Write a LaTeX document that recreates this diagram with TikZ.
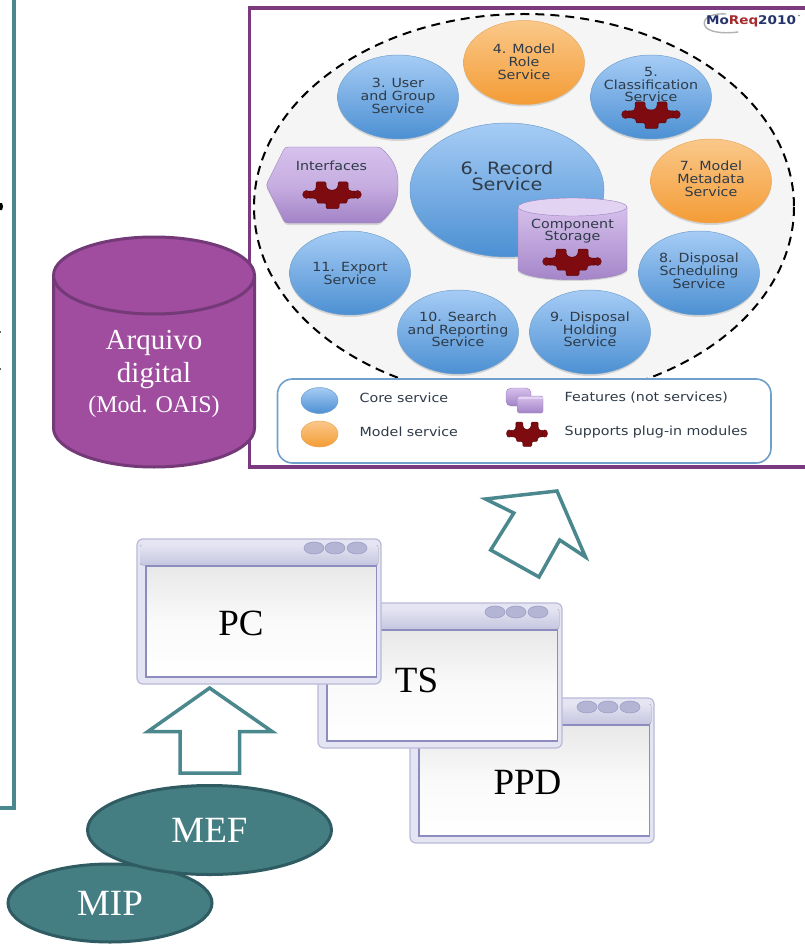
\documentclass[tikz,border=0pt]{standalone}
\usepackage{fontspec}
\setmainfont{Liberation Serif}
\newfontfamily\svfont[FakeStretch=1.13]{DejaVu Sans}
\usetikzlibrary{shapes.geometric}
\definecolor{tealline}{HTML}{4A888E}
\definecolor{tealfill}{HTML}{457E82}
\definecolor{tealdark}{HTML}{2F5C62}
\definecolor{framepurple}{HTML}{7B3A7F}
\definecolor{cylfill}{HTML}{A04C9F}
\definecolor{cyledge}{HTML}{743A78}
\definecolor{svctext}{HTML}{2F3B48}
\definecolor{winedge}{HTML}{B9B9D9}
\definecolor{winbar}{HTML}{E4E4F2}
\definecolor{winbardark}{HTML}{C6C6E0}
\definecolor{wininner}{HTML}{8C8CBE}
\definecolor{BlueEdge}{HTML}{6F9FCB}
\definecolor{BlueTop}{HTML}{A6CCF5}
\definecolor{BlueBot}{HTML}{4C90D3}
\definecolor{OrangeEdge}{HTML}{E9A75C}
\definecolor{OrangeTop}{HTML}{FAC88A}
\definecolor{OrangeBot}{HTML}{F49C36}
\definecolor{FeatTop}{HTML}{D6C0EC}
\definecolor{FeatBot}{HTML}{A283C7}
\definecolor{FeatEdge}{HTML}{9A80BC}
\definecolor{WinBtn}{HTML}{B4B4D4}
\definecolor{WinBtnEdge}{HTML}{9C9CC4}
\definecolor{PuzzleFill}{HTML}{7D0B10}
\definecolor{PuzzleEdge}{HTML}{5A0A0E}
\tikzset{
  svcbase/.style={shape=ellipse,inner sep=0pt,minimum width=121pt,minimum height=84pt,line width=.5pt},
  core/.style={svcbase,draw=BlueEdge,top color=BlueTop,bottom color=BlueBot},
  model/.style={svcbase,draw=OrangeEdge,top color=OrangeTop,bottom color=OrangeBot},
  svctxt/.style={text=svctext,align=center,inner sep=0pt,font=\svfont\fontsize{12.6}{12.7}\selectfont},
  legtxt/.style={text=svctext,anchor=west,inner sep=0pt,font=\svfont\fontsize{12.6}{13}\selectfont},
  hollow/.style={draw=tealline,line width=3.5pt,fill=white,miter limit=10},
  tealell/.style={shape=ellipse,draw=tealdark,fill=tealfill,line width=3pt,inner sep=0pt,text=white,font=\fontsize{37}{38}\selectfont},
  wintxt/.style={text=black,inner sep=0pt,font=\fontsize{37}{38}\selectfont},
  arqtxt/.style={text=white,align=center,inner sep=0pt},
  featfill/.style={top color=FeatTop,bottom color=FeatBot,draw=FeatEdge,line width=.4pt},
  winbtn/.style={fill=WinBtn,draw=WinBtnEdge,line width=.6pt},
  puzzle/.pic={
    \path[fill=PuzzleFill,draw=PuzzleEdge,line width=.5pt,rounded corners=1.2pt,line join=round]
      (-24,-4)--(-18,-4)--(-16,-6)--(-16,-13)--(-6,-13)--(-6,-8)--(-3,-5)--(3,-5)--(6,-8)--(6,-13)--(16,-13)--(16,-6)--(18,-4)--(24,-4)--(24,3)--(18,3)--(15,4.5)--(15,8)--(7,8)--(7,13.5)--(-6,13.5)--(-6,8)--(-15,8)--(-15,4.5)--(-18,3)--(-24,3)--cycle;
    \path[fill=PuzzleFill,draw=PuzzleEdge,line width=.4pt] (-25.5,-.5) ellipse [x radius=3.8,y radius=4];
    \path[fill=PuzzleFill,draw=PuzzleEdge,line width=.4pt] (25.5,-.5) ellipse [x radius=3.8,y radius=4];
  }
}
% name, x, y, class, text y, text
\newcommand\svcnode[6]{%
  \fill[black,opacity=.13] (#2,#3+2) ellipse [x radius=60.5,y radius=42];
  \node[#4] (#1) at (#2,#3) {};
  \node[svctxt] (#1t) at (#2,#5) {#6};
}
% name, x, y, text x, text y, text
\newcommand\winnode[6]{%
  \begin{scope}[shift={(#2,#3)}]
    \draw[winedge,line width=1.2pt,fill=winbar,rounded corners=6pt] (0,0) rectangle (244,145);
    \fill[top color=winbar,bottom color=winbardark,rounded corners=2pt] (3,6) rectangle (241,26);
    \draw[wininner,line width=1.2pt,top color=black!9,bottom color=white,middle color=black!2] (9,27) rectangle (239.5,138);
    \draw[winbtn] (177,9) ellipse [x radius=10,y radius=6];
    \draw[winbtn] (198,9) ellipse [x radius=10,y radius=6];
    \draw[winbtn] (220,9) ellipse [x radius=10,y radius=6];
    \node[wintxt] (#1) at (#4,#5) {#6};
  \end{scope}
}
\begin{document}
\begin{tikzpicture}[x=1pt,y=-1pt]
\useasboundingbox (0,0) rectangle (804,944);
\fill[white] (0,0) rectangle (804,944);
% left bracket and cut-off text specks
\draw[tealline,line width=4pt] (13.5,-5) -- (13.5,808) -- (-5,808);
\fill[black] (0,203) -- (2,203) .. controls (3.5,205) and (3.5,208) .. (2,210) -- (0,210) -- cycle;
\fill[black!60] (0,331) rectangle (1.3,333);
\fill[black!60] (0,368) rectangle (1.3,370);
% frame
\draw[framepurple,line width=3.5pt,fill=white] (249.5,8) rectangle (815,467);
% dashed ellipse
\fill[black!4] (524,207) ellipse [x radius=270,y radius=193];
\draw[black,line width=2pt,dash pattern=on 9pt off 6pt] (524,207) ellipse [x radius=270,y radius=193];
% services
\svcnode{s4}{524}{62.5}{model}{62}{4. Model\\Role\\Service}
\svcnode{s3}{398}{97}{core}{96}{3. User\\and Group\\Service}
\svcnode{s5}{651}{97}{core}{84.5}{5.\\Classification\\Service}
\svcnode{s7}{711}{181}{model}{179}{7. Model\\Metadata\\Service}
\svcnode{s8}{699}{273}{core}{271}{8. Disposal\\Scheduling\\Service}
\svcnode{s11}{350}{273}{core}{273.5}{11. Export\\Service}
\svcnode{s10}{458}{332}{core}{329.5}{10. Search\\and Reporting\\Service}
\svcnode{s9}{590}{332}{core}{329.5}{9. Disposal\\Holding\\Service}
\pic at (651,115) {puzzle};
% record service
\fill[black,opacity=.13] (507,192) ellipse [x radius=97,y radius=67];
\node[core,minimum width=194pt,minimum height=134pt] (s6) at (507,190) {};
\node[svctxt,font=\svfont\fontsize{17}{16.3}\selectfont] (s6t) at (507,176) {6. Record\\Service};
% interfaces
\fill[black,opacity=.13,rounded corners=3pt] (266,187) -- (285,149) -- (380,149) .. controls (392,160) and (398,170) .. (398,187) .. controls (398,204) and (392,214) .. (380,225) -- (285,225) -- cycle;
\draw[featfill,middle color=FeatTop!70!FeatBot,rounded corners=3pt] (266,185) -- (285,147) -- (380,147) .. controls (392,158) and (398,168) .. (398,185) .. controls (398,202) and (392,212) .. (380,223) -- (285,223) -- cycle;
\node[svctxt] (ifc) at (331.5,166) {Interfaces};
\pic at (332,195) {puzzle};
% component storage
\fill[black,opacity=.13] (518,208) -- (518,272) .. controls (530,284) and (615,284) .. (627,272) -- (627,208) -- cycle;
\draw[featfill] (518,207) -- (518,270) .. controls (530,283) and (615,283) .. (627,270) -- (627,207) -- cycle;
\draw[fill=FeatTop!70!white,draw=FeatEdge,line width=.4pt] (572.5,207) ellipse [x radius=54.5,y radius=9];
\node[svctxt] (cstore) at (572.5,231) {Component\\Storage};
\pic at (572,262) {puzzle};
% legend
\draw[draw=BlueEdge,line width=1.6pt,fill=white,rounded corners=15pt] (277.5,379) rectangle (771,463);
\node[core,minimum width=37pt,minimum height=26pt] (lcore) at (319.5,400.5) {};
\node[model,minimum width=37pt,minimum height=26pt] (lmodel) at (319.5,434) {};
\node[legtxt] (ltcore) at (359.5,398) {Core service};
\node[legtxt] (ltmodel) at (359.5,432) {Model service};
\draw[featfill,rounded corners=5pt] (506,388) rectangle (531,406);
\draw[featfill,rounded corners=2pt] (517.5,396) rectangle (543,413);
\fill[FeatTop!70!white] (518,396.5) rectangle (542.5,399);
\node[legtxt] (ltfeat) at (564.5,398) {Features (not services)};
\node[legtxt] (ltplug) at (564.5,432) {Supports plug-in modules};
\pic[xscale=.7,yscale=.92] at (527,434) {puzzle};
% logo
\draw[black!30,line width=1.4pt,line cap=round] (726,14) .. controls (708,13) and (702,20) .. (705,26) .. controls (708,32) and (722,34) .. (738,32);
\node[inner sep=0pt,font=\svfont\bfseries\fontsize{12}{13}\selectfont] (logo) at (751,21) {\textcolor[HTML]{24336B}{Mo}\textcolor[HTML]{A62A2E}{Req}\textcolor[HTML]{24336B}{2010}};
\fill[black!50] (799,15.5) circle [radius=.9];
% arquivo cylinder
\draw[cyledge,line width=3pt,fill=cylfill,line join=round] (53.5,275.5) -- (53.5,428) .. controls (53.5,449) and (98,467) .. (154,467) .. controls (210,467) and (254.5,449) .. (254.5,428) -- (254.5,275.5);
\draw[cyledge,line width=3pt,fill=cylfill] (154,275.5) ellipse [x radius=100.5,y radius=38.5];
\node[arqtxt,font=\fontsize{29}{33}\selectfont] (arq) at (154,359.5) {Arquivo\\digital};
\node[arqtxt,font=\fontsize{24}{26}\selectfont] (oais) at (154,407) {(Mod. OAIS)};
% windows
\winnode{ppd}{410}{698}{117.5}{84}{PPD}
\winnode{ts}{318}{603}{98.5}{77}{TS}
\winnode{pc}{137}{539}{104}{84}{PC}
% hollow arrows
\draw[hollow] (209.6,688) -- (272.4,731.7) -- (239.6,731.7) -- (239.6,773) -- (180,773) -- (180,731.7) -- (147.6,731.7) -- cycle;
\draw[hollow] (485.5,499) -- (557,491) -- (585.5,557) -- (559.7,540) -- (539,577) -- (490.7,550) -- (513.8,513) -- cycle;
% teal ellipses
\node[tealell,minimum width=204pt,minimum height=78pt] (mip) at (110,903) {MIP};
\node[tealell,minimum width=244pt,minimum height=89pt] (mef) at (209.5,830) {MEF};
\end{tikzpicture}
\end{document}
